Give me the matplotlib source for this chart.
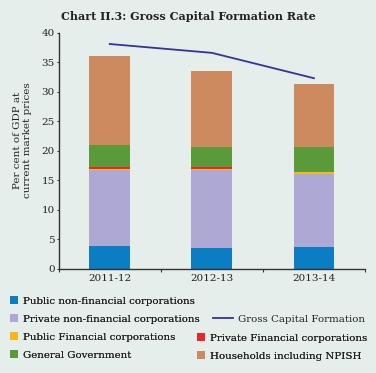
import matplotlib
matplotlib.use("Agg")
import matplotlib.pyplot as plt
import numpy as np
from matplotlib.patches import Patch
from matplotlib.lines import Line2D

years = ["2011-12", "2012-13", "2013-14"]
public_nfc = [3.85, 3.56, 3.73]
private_nfc = [12.9, 13.2, 12.3]
public_fc = [0.15, 0.2, 0.3]
private_fc = [0.35, 0.25, 0.05]
general_govt = [3.7, 3.5, 4.2]
households = [15.1, 12.8, 10.7]
gcf = [38.1, 36.6, 32.3]

series = [
    ("Public non-financial corporations", public_nfc, "#0a7dc3"),
    ("Private non-financial corporations", private_nfc, "#aea8d5"),
    ("Public Financial corporations", public_fc, "#f8b81c"),
    ("Private Financial corporations", private_fc, "#e8262b"),
    ("General Government", general_govt, "#5b9a3b"),
    ("Households including NPISH", households, "#cd8a5e"),
]

BG = "#e6eeeb"
SERIF = "DejaVu Serif"
plt.rcParams["font.family"] = SERIF

fig = plt.figure(figsize=(3.76, 3.73), dpi=100, facecolor=BG)
ax = fig.add_axes([58.7 / 376, 1 - 268.7 / 373, (365 - 58.7) / 376, (268.7 - 32.8) / 373])
ax.set_facecolor(BG)

x = np.arange(len(years))
bottom = np.zeros(len(years))
handles = {}
for name, vals, col in series:
    ax.bar(x, vals, width=0.4, bottom=bottom, color=col, label=name, linewidth=0)
    handles[name] = Patch(facecolor=col, edgecolor="none")
    bottom += np.array(vals)
ln, = ax.plot(x, gcf, color="#33339a", lw=1.3)

ax.set_xlim(-0.5, 2.5)
ax.set_ylim(0, 40)
ax.set_yticks(np.arange(0, 41, 5))
ax.set_xticks([-0.5, 0.5, 1.5, 2.5])
ax.set_xticklabels([])
ax.set_xticks(x, minor=True)
ax.set_xticklabels(years, minor=True)
ax.tick_params(axis="x", which="minor", length=0, pad=4, labelsize=7.5, colors="#222222")
ax.tick_params(axis="x", which="major", length=2.4, direction="out", color="#333333")
ax.tick_params(axis="y", length=1.8, direction="out", color="#333333", labelsize=7.5, labelcolor="#222222", pad=1.2)
for s in ["top", "right"]:
    ax.spines[s].set_visible(False)
for s in ["left", "bottom"]:
    ax.spines[s].set_color("#333333")
    ax.spines[s].set_linewidth(1.0)

ax.set_ylabel("Per cent of GDP at\ncurrent market prices", fontsize=7.5, color="#222222", linespacing=1.1)
ax.yaxis.set_label_coords(-0.087, 0.5456)

fig.text(188 / 376, 1 - 16 / 373, "Chart II.3: Gross Capital Formation Rate", ha="center", va="center",
         fontsize=8.0, fontweight="bold", color="#222222")

leg_kw = dict(frameon=False, fontsize=7.4, handlelength=0.8, handleheight=0.8, handletextpad=0.5,
              labelspacing=0.83, borderaxespad=0, borderpad=0, labelcolor="#222222")
names = [s[0] for s in series]
left_names = [names[0], names[1], names[2], names[4]]
l1 = fig.legend([handles[n] for n in left_names], left_names, loc="upper left",
                bbox_to_anchor=(10 / 376, 1 - 296 / 373), **leg_kw)
fig.add_artist(l1)
right_names = [names[3], names[5]]
l2 = fig.legend([handles[n] for n in right_names], right_names, loc="upper left",
                bbox_to_anchor=(197 / 376, 1 - 333 / 373), **leg_kw)
fig.add_artist(l2)
kw3 = dict(leg_kw)
kw3["handlelength"] = 1.95
l3 = fig.legend([ln], ["Gross Capital Formation"], loc="upper left",
                bbox_to_anchor=(213 / 376, 1 - 314 / 373), **kw3)

fig.savefig("out.png", dpi=100, facecolor=BG)
